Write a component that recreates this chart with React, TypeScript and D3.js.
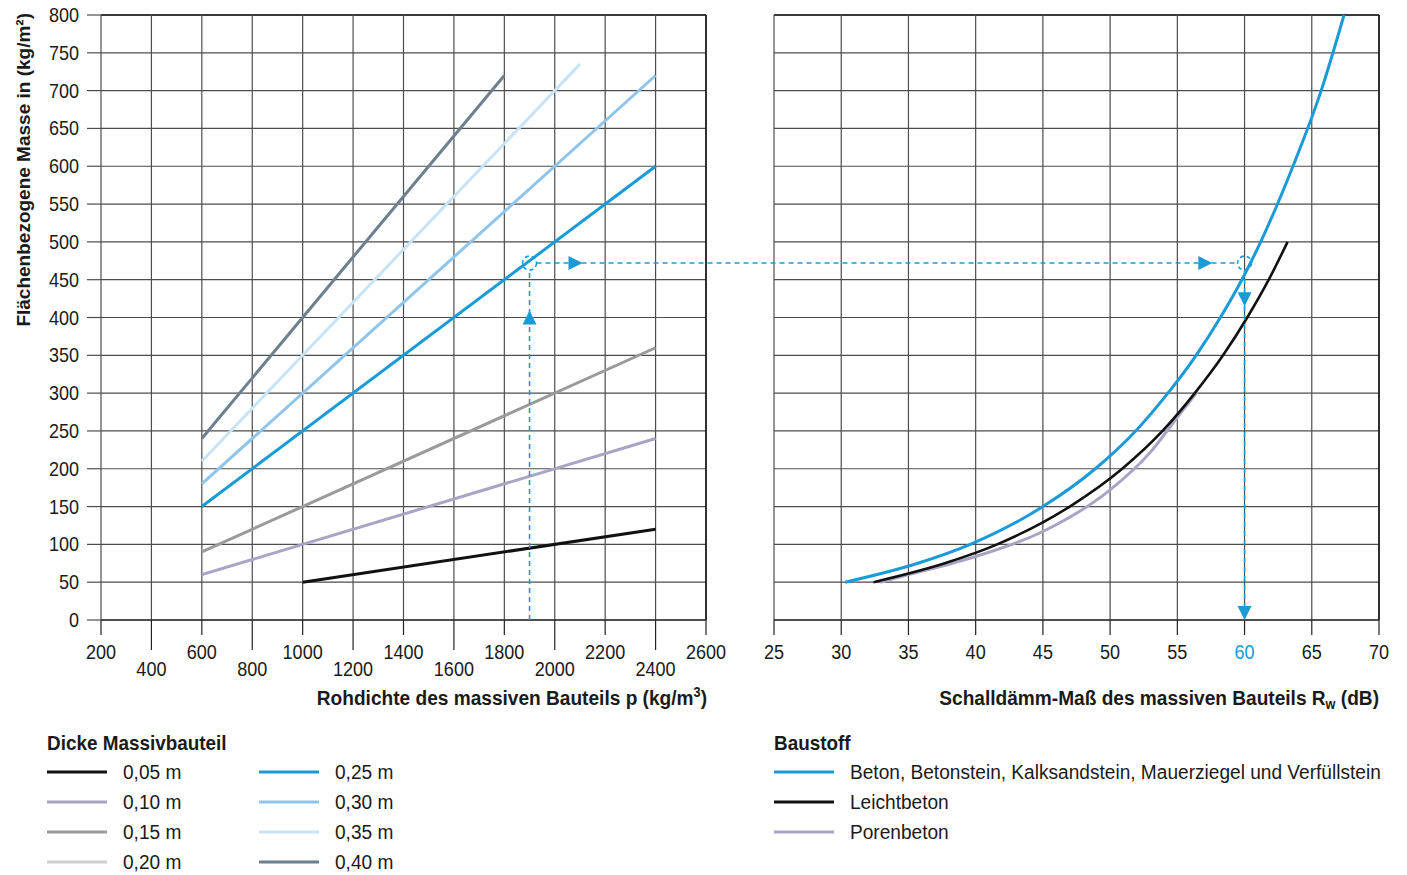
import React from "react";
import * as d3 from "d3";

// ---------- data ----------
const densityTicks = [200, 400, 600, 800, 1000, 1200, 1400, 1600, 1800, 2000, 2200, 2400, 2600];
const massTicks = [0, 50, 100, 150, 200, 250, 300, 350, 400, 450, 500, 550, 600, 650, 700, 750, 800];
const rwTicks = [25, 30, 35, 40, 45, 50, 55, 60, 65, 70];

const thicknessLabels = ["0,05 m", "0,10 m", "0,15 m", "0,20 m", "0,25 m", "0,30 m", "0,35 m", "0,40 m"];
const thicknessColors = ["#111111", "#a9a4c6", "#9a9a9a", "#cfcfcf", "#1a9ad7", "#8fc5ec", "#c9e3f6", "#6c7f8e"];
// density start/end and mass start/end for each thickness (0,20 m is legend only)
const lineDensity: number[][] = [[1000, 2400], [600, 2400], [600, 2400], [], [600, 2400], [600, 2400], [600, 2100], [600, 1800]];
const lineMass: number[][] = [[50, 120], [60, 240], [90, 360], [], [150, 600], [180, 720], [210, 735], [240, 720]];

const materialLabels = ["Beton, Betonstein, Kalksandstein, Mauerziegel und Verfüllstein", "Leichtbeton", "Porenbeton"];
const materialColors = ["#1a9ad7", "#111111", "#a9a4c6"];

const betonMass = [50, 75, 100, 150, 200, 250, 300, 350, 400, 450, 500, 600, 700, 800];
const betonRw = [30.3, 35.7, 39.6, 45.0, 48.9, 51.9, 54.3, 56.4, 58.2, 59.8, 61.2, 63.6, 65.7, 67.4];
const leichtMass = [50, 75, 100, 150, 200, 250, 300, 350, 400, 450, 500];
const leichtRw = [32.4, 37.7, 41.6, 47.0, 50.9, 53.9, 56.3, 58.4, 60.2, 61.8, 63.2];
const porenMass = [50, 60, 84, 117, 172, 222, 268, 302];
const porenRw = [32.9, 35.0, 40.0, 45.0, 50.0, 53.0, 55.0, 56.5];

const exampleDensity = 1900;
const exampleMass = 472;
const exampleRw = 60;

// ---------- layout ----------
const W = 1407, H = 875;
const TOP = 15, BOTTOM = 620;
const L0 = 101, L1 = 706, R0 = 774, R1 = 1379;
const BLUE = "#1a9ad7";
const INK = "#1a1a1a";
const FONT = "'Liberation Sans', Arial, sans-serif";
const SX = 0.9;

const xD = d3.scaleLinear().domain([200, 2600]).range([L0, L1]);
const xR = d3.scaleLinear().domain([25, 70]).range([R0, R1]);
const y = d3.scaleLinear().domain([0, 800]).range([BOTTOM, TOP]);

const curve = d3.line<[number, number]>().x(d => xR(d[0])).y(d => y(d[1])).curve(d3.curveMonotoneX);
const zip = (a: number[], b: number[]) => a.map((v, i) => [v, b[i]] as [number, number]);

const GRID = "#4d4d4d";

function T({ x, y: yy, anchor = "start", size = 21, bold = false, fill = INK, sx = SX, dy, children }:
  { x: number; y: number; anchor?: string; size?: number; bold?: boolean; fill?: string; sx?: number; dy?: string; children: React.ReactNode }) {
  return (
    <text transform={`translate(${x},${yy}) scale(${sx},1)`} textAnchor={anchor as any} fontSize={size}
      fontWeight={bold ? "bold" : "normal"} fill={fill} dy={dy}>
      {children}
    </text>
  );
}

function Grid({ xs, x, x0, x1 }: { xs: number[]; x: (v: number) => number; x0: number; x1: number }) {
  return (
    <g>
      {massTicks.map(m => (
        <line key={"h" + m} x1={x0} x2={x1} y1={y(m)} y2={y(m)} stroke={m === 800 ? "#3a3a3a" : GRID} strokeWidth={m === 800 ? 2 : 1.2} />
      ))}
      {xs.map(v => (
        <line key={"v" + v} x1={x(v)} x2={x(v)} y1={TOP} y2={BOTTOM} stroke={GRID} strokeWidth={1.2} />
      ))}
    </g>
  );
}

function Arrow({ x, yy, dir }: { x: number; yy: number; dir: "up" | "down" | "right" }) {
  const s = 7, l = 14;
  let p = "";
  if (dir === "up") p = `M${x},${yy} L${x - s},${yy + l} L${x + s},${yy + l} Z`;
  if (dir === "down") p = `M${x},${yy} L${x - s},${yy - l} L${x + s},${yy - l} Z`;
  if (dir === "right") p = `M${x},${yy} L${x - l},${yy - s} L${x - l},${yy + s} Z`;
  return <path d={p} fill={BLUE} />;
}

export default function App() {
  const ex = xD(exampleDensity), ey = y(exampleMass), rx = xR(exampleRw);
  const r = 7;
  return (
    <svg width={W} height={H} style={{ position: "absolute", left: 0, top: 0, fontFamily: FONT }}>
      <rect width={W} height={H} fill="#fff" />
      {/* grids */}
      <Grid xs={densityTicks} x={xD} x0={L0} x1={L1} />
      <Grid xs={rwTicks} x={xR} x0={R0} x1={R1} />
      <line x1={L1} x2={L1} y1={TOP} y2={BOTTOM} stroke="#111" strokeWidth={1.5} />
      <line x1={R1} x2={R1} y1={TOP} y2={BOTTOM} stroke="#111" strokeWidth={1.5} />
      <line x1={L0} x2={L1} y1={BOTTOM} y2={BOTTOM} stroke="#333" strokeWidth={1.6} />
      <line x1={R0} x2={R1} y1={BOTTOM} y2={BOTTOM} stroke="#333" strokeWidth={1.6} />

      {/* y axis ticks and labels */}
      {massTicks.map(m => (
        <g key={"yt" + m}>
          <line x1={87} x2={L0} y1={y(m)} y2={y(m)} stroke={GRID} strokeWidth={1.2} />
          <T x={79} y={y(m)} dy="0.35em" anchor="end" size={20} sx={0.9}>{m}</T>
        </g>
      ))}
      {/* x ticks left */}
      {densityTicks.map((v, i) => (
        <g key={"xd" + v}>
          <line x1={xD(v)} x2={xD(v)} y1={BOTTOM} y2={BOTTOM + (i % 2 === 0 ? 15 : 30)} stroke="#222" strokeWidth={1.2} />
          <T x={xD(v)} y={i % 2 === 0 ? 659 : 676} anchor="middle" size={21} sx={0.86}>{v}</T>
        </g>
      ))}
      {/* x ticks right */}
      {rwTicks.map(v => (
        <g key={"xr" + v}>
          <line x1={xR(v)} x2={xR(v)} y1={BOTTOM} y2={BOTTOM + 15} stroke="#222" strokeWidth={1.2} />
          <T x={xR(v)} y={659} anchor="middle" size={21} sx={0.86} fill={v === exampleRw ? BLUE : INK}>{v}</T>
        </g>
      ))}

      {/* axis titles */}
      <text transform="translate(30,13) rotate(-90)" textAnchor="end" fontSize={19} fontWeight="bold" fill={INK}>
        Flächenbezogene Masse in (kg/m²)
      </text>
      <T x={707} y={705} anchor="end" size={21} bold sx={0.91}>
        Rohdichte des massiven Bauteils p (kg/m<tspan dy={-8} fontSize={14}>3</tspan><tspan dy={8}>)</tspan>
      </T>
      <T x={1379} y={705} anchor="end" size={21} bold sx={0.91}>
        Schalldämm-Maß des massiven Bauteils R<tspan dy={4} fontSize={14}>w</tspan><tspan dy={-4}> (dB)</tspan>
      </T>

      {/* left lines */}
      {lineDensity.map((ds, i) =>
        ds.length ? (
          <line key={"ld" + i} x1={xD(ds[0])} y1={y(lineMass[i][0])} x2={xD(ds[1])} y2={y(lineMass[i][1])}
            stroke={thicknessColors[i]} strokeWidth={3} />
        ) : null
      )}

      {/* right curves */}
      <path d={curve(zip(porenRw, porenMass)) || ""} fill="none" stroke={materialColors[2]} strokeWidth={3} />
      <path d={curve(zip(leichtRw, leichtMass)) || ""} fill="none" stroke={materialColors[1]} strokeWidth={2.6} />
      <path d={curve(zip(betonRw, betonMass)) || ""} fill="none" stroke={materialColors[0]} strokeWidth={3} />

      {/* example reading */}
      <g stroke={BLUE} strokeWidth={1.6} strokeDasharray="5,4" fill="none">
        <line x1={ex} x2={ex} y1={BOTTOM} y2={ey + r} />
        <line x1={ex + r} x2={rx - r} y1={ey} y2={ey} />
        <line x1={rx} x2={rx} y1={ey + r} y2={BOTTOM} />
        <circle cx={ex} cy={ey} r={r} strokeDasharray="4,3" />
        <circle cx={rx} cy={ey} r={r} strokeDasharray="4,3" />
      </g>
      <Arrow x={ex} yy={y(400) - 7} dir="up" />
      <Arrow x={xD(2110)} yy={ey} dir="right" />
      <Arrow x={xR(57.6)} yy={ey} dir="right" />
      <Arrow x={rx} yy={y(415)} dir="down" />
      <Arrow x={rx} yy={BOTTOM} dir="down" />

      {/* legend: thickness */}
      <T x={47} y={750} size={21} bold sx={0.9}>Dicke Massivbauteil</T>
      {thicknessLabels.map((t, i) => {
        const col = Math.floor(i / 4), row = i % 4;
        const lx = col === 0 ? 47 : 259, ly = 772 + row * 30;
        return (
          <g key={"lt" + i}>
            <line x1={lx} x2={lx + 60} y1={ly} y2={ly} stroke={thicknessColors[i]} strokeWidth={3} />
            <T x={lx + 76} y={ly} dy="0.35em" size={21} sx={0.91}>{t}</T>
          </g>
        );
      })}

      {/* legend: material */}
      <T x={774} y={750} size={21} bold sx={0.9}>Baustoff</T>
      {materialLabels.map((t, i) => {
        const ly = 772 + i * 30;
        return (
          <g key={"lm" + i}>
            <line x1={774} x2={834} y1={ly} y2={ly} stroke={materialColors[i]} strokeWidth={3} />
            <T x={850} y={ly} dy="0.35em" size={21} sx={0.91}>{t}</T>
          </g>
        );
      })}
    </svg>
  );
}
